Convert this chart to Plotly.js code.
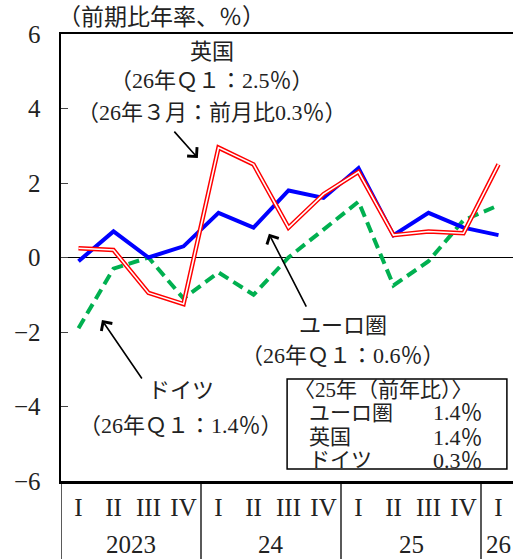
<!DOCTYPE html>
<html>
<head>
<meta charset="utf-8">
<script src="https://cdn.plot.ly/plotly-3.0.1.min.js"></script>
<style>html,body{margin:0;padding:0;background:#fff;}#chart{width:513px;height:559px;}</style>
</head>
<body>
<div id="chart"></div>
<script>
// ---- data ----
const quarters = ["I","II","III","IV","I","II","III","IV","I","II","III","IV","I"];
const years = ["2023","24","25","26"];
const yearCenters = [1.5, 5.5, 9.5, 11.58];
const euro    = [-0.1, 0.7, 0.0, 0.3, 1.2, 0.8, 1.8, 1.6, 2.4, 0.6, 1.2, 0.8, 0.6];
const uk      = [0.25, 0.2, -0.95, -1.25, 2.95, 2.5, 0.8, 1.7, 2.3, 0.6, 0.7, 0.65, 2.5];
const germany = [-1.9, -0.3, 0.0, -1.1, -0.4, -1.0, 0.0, 0.75, 1.5, -0.75, -0.1, 1.0, 1.4];
const yTicks = [-6, -4, -2, 0, 2, 4, 6];

const FONT = '"Liberation Serif", "Noto Sans CJK JP", serif';
const TXT = '#222';
const x = quarters.map((_, i) => i);

const traces = [
  {x: x, y: germany, mode: 'lines', line: {color: '#00B050', width: 4, dash: '11px,6px'}, hoverinfo: 'skip'},
  {x: x, y: euro, mode: 'lines', line: {color: '#0000FF', width: 4}, hoverinfo: 'skip'},
  {x: x, y: uk, mode: 'lines', line: {color: '#FF0000', width: 4.5}, hoverinfo: 'skip'},
  {x: x, y: uk, mode: 'lines', line: {color: '#FFFFFF', width: 1.6}, hoverinfo: 'skip'}
];

function txt(text, xv, yv, opts) {
  return Object.assign({text: text, x: xv, y: yv, xref: 'x', yref: 'y', showarrow: false,
    font: {family: FONT, size: 22, color: TXT}}, opts || {});
}
function arrow(hx, hy, tx, ty) {
  return {text: '', x: hx, y: hy, ax: tx, ay: ty, xref: 'x', yref: 'y', axref: 'x', ayref: 'y',
    showarrow: true, arrowhead: 4, arrowsize: 1.6, arrowwidth: 1.6, arrowcolor: '#000'};
}

const annotations = [
  txt('英国', 3.8, 5.54),
  txt('（26年Ｑ１：2.5％）', 3.8, 4.75),
  txt('（26年３月：前月比0.3％）', 3.8, 3.9),
  arrow(3.41, 2.67, 2.70, 3.42),
  txt('ユーロ圏', 7.55, -1.83),
  txt('（26年Ｑ１：0.6％）', 7.55, -2.63),
  arrow(5.44, 0.64, 6.53, -1.36),
  txt('ドイツ', 2.93, -3.56),
  txt('（26年Ｑ１：1.4％）', 2.93, -4.5),
  arrow(0.67, -1.68, 1.84, -3.29),
  txt('〈25年（前年比）〉', 6.1, -3.56, {xanchor: 'left', font: {family: FONT, size: 21, color: TXT}}),
  txt('ユーロ圏', 6.53, -4.17, {xanchor: 'left', font: {family: FONT, size: 21, color: TXT}}),
  txt('1.4％', 11.62, -4.17, {xanchor: 'right'}),
  txt('英国', 6.53, -4.82, {xanchor: 'left', font: {family: FONT, size: 21, color: TXT}}),
  txt('1.4％', 11.62, -4.82, {xanchor: 'right'}),
  txt('ドイツ', 6.53, -5.44, {xanchor: 'left', font: {family: FONT, size: 21, color: TXT}}),
  txt('0.3％', 11.62, -5.44, {xanchor: 'right'})
];
years.forEach((yr, i) => {
  annotations.push({text: yr, x: yearCenters[i], y: -0.143, xref: 'x', yref: 'paper',
    xanchor: i === years.length - 1 ? 'left' : 'center', yanchor: 'middle', showarrow: false,
    font: {family: FONT, size: 25, color: TXT}});
});

const shapes = [
  {type: 'rect', xref: 'x', yref: 'y', x0: 5.96, x1: 12.24, y0: -5.68, y1: -3.26,
   line: {color: '#000', width: 1.5}, fillcolor: '#fff', layer: 'above'}
];
[-0.5, 3.5, 7.5, 11.5].forEach(v => {
  shapes.push({type: 'line', xref: 'x', yref: 'paper', x0: v, x1: v, y0: 0, y1: -0.18,
    line: {color: '#000', width: 1.3}});
});

const layout = {
  width: 513, height: 559,
  margin: {l: 61, r: 0, t: 34, b: 78, pad: 0},
  paper_bgcolor: '#fff', plot_bgcolor: '#fff',
  showlegend: false,
  title: {text: '（前期比年率、％）', xref: 'container', yref: 'container', x: 58/513, xanchor: 'left',
    y: 1 - 17/559, yanchor: 'middle', font: {family: FONT, size: 23, color: TXT}},
  xaxis: {range: [-0.5, -0.5 + 452/35], tickvals: x, ticktext: quarters, ticks: '',
    showgrid: false, zeroline: false, showline: true, linecolor: '#000', linewidth: 2.5, mirror: true,
    tickfont: {family: FONT, size: 25, color: TXT}, ticklabelstandoff: 2, fixedrange: true},
  yaxis: {range: [-6, 6], tickvals: yTicks, ticks: 'inside', ticklen: 7, tickwidth: 1, tickcolor: '#444',
    showgrid: false, zeroline: true, zerolinecolor: '#000', zerolinewidth: 1.5,
    showline: true, linecolor: '#000', linewidth: 2.5,
    tickfont: {family: FONT, size: 25, color: TXT}, ticklabelstandoff: 13, fixedrange: true},
  annotations: annotations,
  shapes: shapes
};

Plotly.newPlot('chart', traces, layout, {displayModeBar: false, staticPlot: true});
</script>
</body>
</html>
